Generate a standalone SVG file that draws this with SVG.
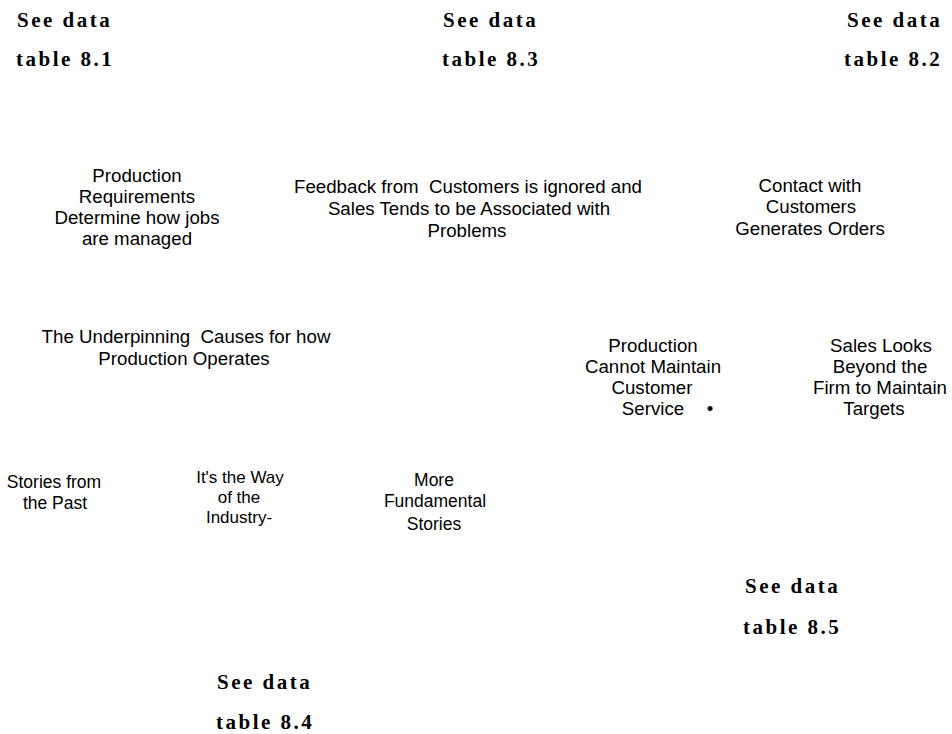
<svg xmlns="http://www.w3.org/2000/svg" width="952" height="734" viewBox="0 0 952 734">
<style>
.ref{font-family:"Liberation Serif","Times New Roman",serif;font-weight:bold;font-size:21px;letter-spacing:2.5px;fill:#000}
.lbl{font-family:"Liberation Sans",Arial,sans-serif;font-size:18.7px;fill:#000;text-anchor:middle;white-space:pre}
.sm{font-size:17.5px}
.xs{font-size:17px}
</style>
<rect width="952" height="734" fill="#fff"/>
<g id="ref-8-1"><text class="ref" x="17" y="27">See data</text><text class="ref" x="16" y="66">table 8.1</text></g>
<g id="ref-8-3"><text class="ref" x="443" y="27">See data</text><text class="ref" x="442" y="66">table 8.3</text></g>
<g id="ref-8-2"><text class="ref" x="847" y="27">See data</text><text class="ref" x="844" y="66">table 8.2</text></g>
<g id="ref-8-5"><text class="ref" x="745" y="593">See data</text><text class="ref" x="743" y="634">table 8.5</text></g>
<g id="ref-8-4"><text class="ref" x="217" y="689">See data</text><text class="ref" x="216" y="729">table 8.4</text></g>
<g id="production-requirements">
<text class="lbl" x="137" y="182">Production</text>
<text class="lbl" x="137" y="203">Requirements</text>
<text class="lbl" x="137" y="224">Determine how jobs</text>
<text class="lbl" x="137" y="245">are managed</text>
</g>
<g id="feedback">
<text class="lbl" x="468" y="193" xml:space="preserve">Feedback from  Customers is ignored and</text>
<text class="lbl" x="469" y="215">Sales Tends to be Associated with</text>
<text class="lbl" x="467" y="237">Problems</text>
</g>
<g id="contact">
<text class="lbl" x="810" y="192">Contact with</text>
<text class="lbl" x="811" y="213">Customers</text>
<text class="lbl" x="810" y="235">Generates Orders</text>
</g>
<g id="underpinning">
<text class="lbl" x="186" y="343" xml:space="preserve">The Underpinning  Causes for how</text>
<text class="lbl" x="184" y="365">Production Operates</text>
</g>
<g id="production-service">
<text class="lbl" x="653" y="352">Production</text>
<text class="lbl" x="653" y="373">Cannot Maintain</text>
<text class="lbl" x="652" y="394">Customer</text>
<text class="lbl" x="653" y="415">Service</text>
<text class="lbl" x="710" y="415">•</text>
</g>
<g id="sales-looks">
<text class="lbl" x="881" y="352">Sales Looks</text>
<text class="lbl" x="880" y="373">Beyond the</text>
<text class="lbl" x="880" y="394">Firm to Maintain</text>
<text class="lbl" x="874" y="415">Targets</text>
</g>
<g id="stories-past">
<text class="lbl sm" x="54" y="488">Stories from</text>
<text class="lbl sm" x="55" y="509">the Past</text>
</g>
<g id="way-of-industry">
<text class="lbl xs" x="240" y="483">It's the Way</text>
<text class="lbl xs" x="239" y="503">of the</text>
<text class="lbl xs" x="239" y="523">Industry-</text>
</g>
<g id="more-fundamental">
<text class="lbl sm" x="434" y="486">More</text>
<text class="lbl sm" x="435" y="507">Fundamental</text>
<text class="lbl sm" x="434" y="530">Stories</text>
</g>
<g id="connectors"></g>
</svg>
